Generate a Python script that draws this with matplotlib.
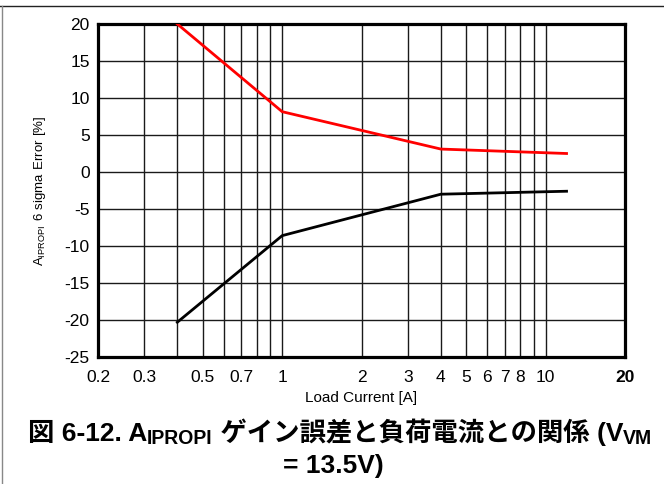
import matplotlib
matplotlib.use("Agg")
import matplotlib.pyplot as plt
from matplotlib.lines import Line2D
from matplotlib.ticker import FixedLocator, NullFormatter

plt.rcParams['font.family'] = ['Liberation Sans', 'DejaVu Sans']

# Gain error limits vs load current
load_current = [0.4, 1, 4, 12]
error_high = [20, 8.15, 3.1, 2.5]
error_low = [-20.3, -8.6, -3.0, -2.6]

x_ticks = [0.2, 0.3, 0.5, 0.7, 1, 2, 3, 4, 5, 6, 7, 8, 10, 20]
x_tick_labels = ['0.2', '0.3', '0.5', '0.7', '1', '2', '3', '4', '5', '6', '7', '8', '10', '20']
x_grid = [0.3, 0.4, 0.5, 0.6, 0.7, 0.8, 0.9, 1, 2, 3, 4, 5, 6, 7, 8, 9, 10]
y_ticks = [-25, -20, -15, -10, -5, 0, 5, 10, 15, 20]
y_tick_labels = ['-25', '-20', '-15', '-10', '-5', '0', '5', '10', '15', '20']

W, H = 664, 484
fig = plt.figure(figsize=(W / 100, H / 100), dpi=100)
ax = fig.add_axes([98 / W, 1 - 357 / H, 527 / W, 333 / H])

ax.set_xscale('log')
ax.set_xlim(0.2, 20)
ax.set_ylim(-25, 20)

# grid drawn by hand so it lands on every decade step
for gx in x_grid:
    ax.axvline(gx, color='#1a1a1a', lw=1.0, zorder=1)
for gy in y_ticks[1:-1]:
    ax.axhline(gy, color='#1a1a1a', lw=1.0, zorder=1)

ax.plot(load_current, error_high, color='#ff0000', lw=2.0, zorder=3)
ax.plot(load_current, error_low, color='black', lw=2.0, zorder=3)

ax.xaxis.set_major_locator(FixedLocator(x_ticks))
ax.xaxis.set_minor_locator(FixedLocator([]))
ax.xaxis.set_minor_formatter(NullFormatter())
ax.set_xticklabels(x_tick_labels)
ax.set_yticks(y_ticks)
ax.set_yticklabels(y_tick_labels)
ax.tick_params(axis='both', length=0, labelsize=12.5, pad=6)
ax.tick_params(axis='x', pad=9)
ax.get_xticklabels()[-1].set_fontweight('bold')

for s in ax.spines.values():
    s.set_linewidth(2.3)
    s.set_color('black')

ax.set_xlabel('Load Current [A]', fontsize=11, labelpad=5)
ax.set_ylabel(r'$\mathregular{A_{IPROPI}\ 6\ sigma\ Error\ [\%]}$', fontsize=9.5, labelpad=12)

# caption: pieces laid out left to right, subscripts smaller and lowered
cap_family = ['Liberation Sans', 'Noto Sans CJK JP']
cap_size = 19


def caption_line(runs, y_px, x_center_px):
    renderer = fig.canvas.get_renderer()
    texts = []
    for s, sub in runs:
        size = cap_size * 0.74 if sub else cap_size
        yy = y_px + (3 if sub else 0)
        t = fig.text(0, 1 - yy / H, s, fontsize=size, fontweight='bold',
                     family=cap_family, va='baseline', ha='left')
        texts.append(t)
    widths = [t.get_window_extent(renderer).width for t in texts]
    x = x_center_px - sum(widths) / 2
    for t, w in zip(texts, widths):
        t.set_x(x / W)
        x += w


caption_line([('図 6-12. A', False), ('IPROPI', True),
              (' ゲイン誤差と負荷電流との関係 (V', False), ('VM', True)], 441, 340)
caption_line([('= 13.5V)', False)], 473, 333)

# frame lines along the top and left of the figure
fig.add_artist(Line2D([0, 1], [1 - 6 / H] * 2, transform=fig.transFigure, color='#222222', lw=1))
fig.add_artist(Line2D([1.5 / W] * 2, [0, 1 - 6 / H], transform=fig.transFigure, color='#888888', lw=1))

fig.savefig('out.png', dpi=100)
